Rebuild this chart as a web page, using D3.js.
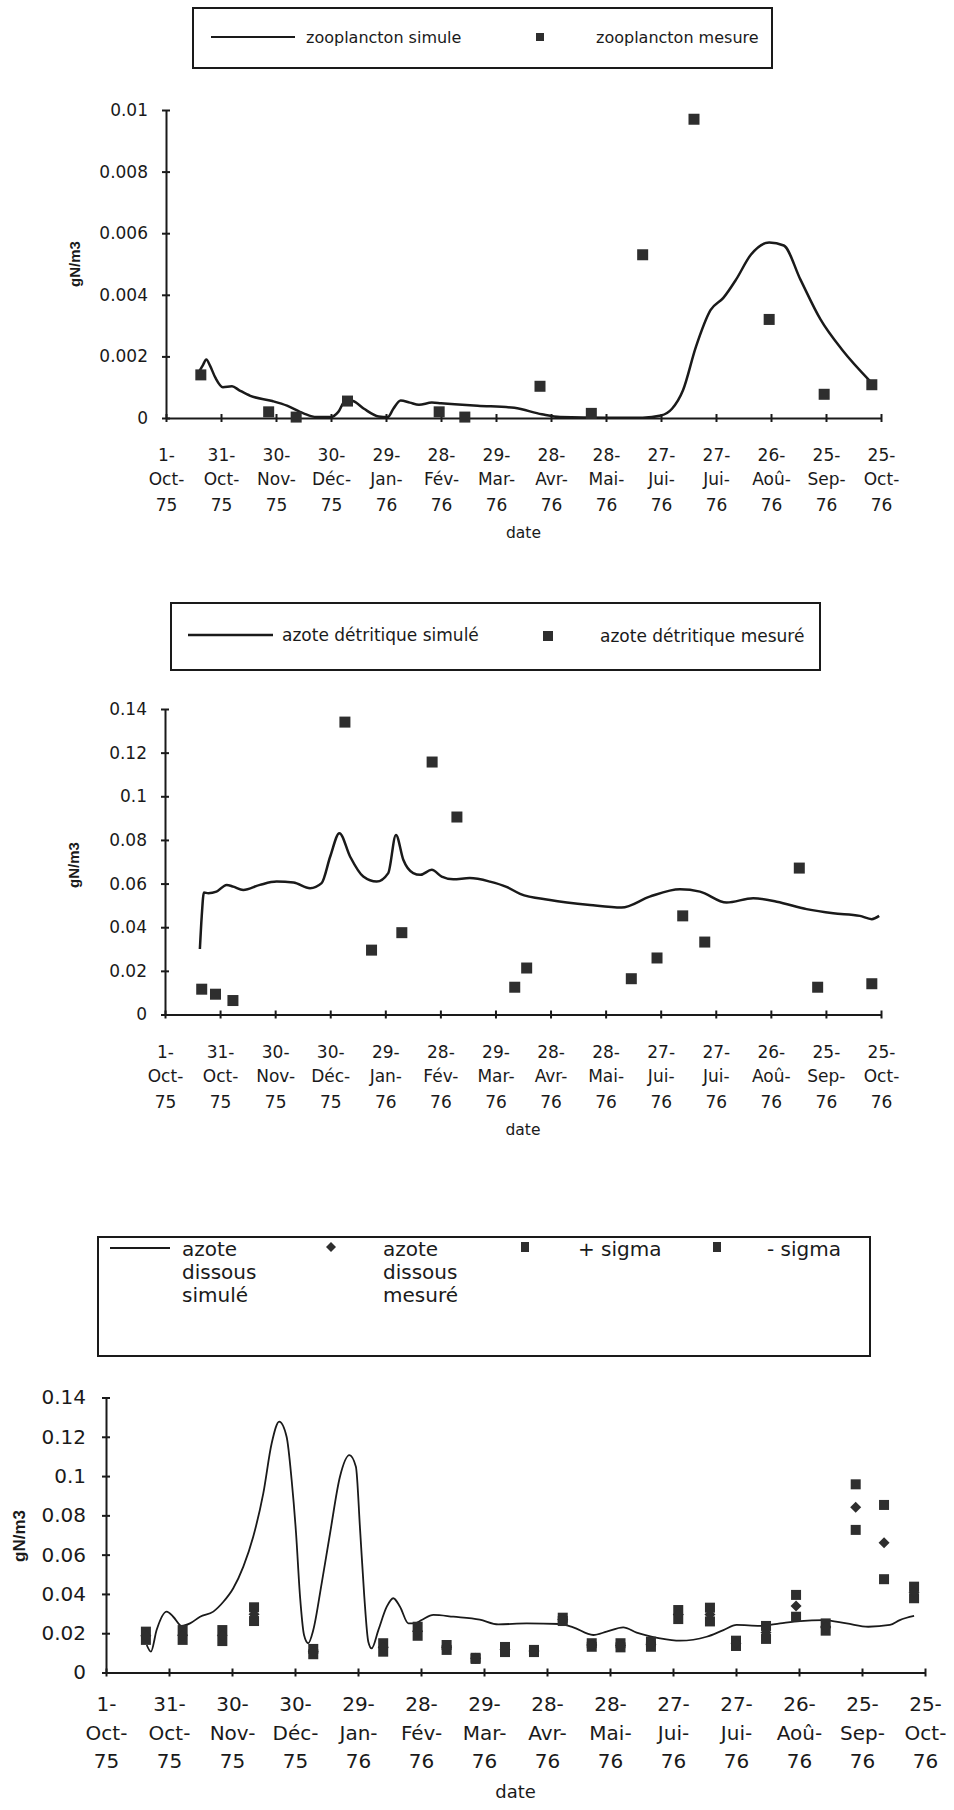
<!DOCTYPE html>
<html>
<head>
<meta charset="utf-8">
<script src="https://cdn.jsdelivr.net/npm/d3@7"></script>
<style>
  body { margin: 0; background: #fff; }
  svg { display: block; }
</style>
</head>
<body>
<svg id="fig" width="954" height="1810"></svg>
<script>
// Time axis: days counted from 1 Oct 1975, one tick every 30 days
const tickDays   = [0, 30, 60, 90, 120, 150, 180, 210, 240, 270, 300, 330, 360, 390];
const tickDay    = ["1-", "31-", "30-", "30-", "29-", "28-", "29-", "28-", "28-", "27-", "27-", "26-", "25-", "25-"];
const tickMonth  = ["Oct-", "Oct-", "Nov-", "Déc-", "Jan-", "Fév-", "Mar-", "Avr-", "Mai-", "Jui-", "Jui-", "Aoû-", "Sep-", "Oct-"];
const tickYear   = ["75", "75", "75", "75", "76", "76", "76", "76", "76", "76", "76", "76", "76", "76"];

// Zooplancton (gN/m3)
const zooTicks  = [0, 0.002, 0.004, 0.006, 0.008, 0.01];
const zooLabels = ["0", "0.002", "0.004", "0.006", "0.008", "0.01"];
const zooSimDays = [18, 20, 22, 24, 27, 31, 36, 40, 46, 58, 66, 75, 82, 90, 94, 98, 102, 108, 116, 121, 124, 128, 133, 138, 145, 150, 170, 190, 205, 215, 240, 260, 270, 276, 282, 289, 297, 304, 311, 319, 329, 337, 346, 357, 369, 384];
const zooSimVals = [0.0015, 0.0017, 0.0019, 0.0017, 0.0013, 0.001, 0.00103, 0.0009, 0.00072, 0.00055, 0.0004, 0.00015, 0.00003, 0.00003, 0.0002, 0.00058, 0.00055, 0.0003, 0.00005, 0.00003, 0.0003, 0.00057, 0.0005, 0.00043, 0.0005, 0.00048, 0.0004, 0.00033, 0.00012, 0.00003, 0.00001, 0.00001, 0.00008, 0.0003, 0.0009, 0.0023, 0.0035, 0.0039, 0.0045, 0.0053, 0.0057, 0.0056, 0.0045, 0.0032, 0.0022, 0.0012];
const zooMesDays = [19, 56, 71, 99, 149, 163, 204, 232, 260, 288, 329, 359, 385];
const zooMesVals = [0.0014, 0.0002, 0.00003, 0.00055, 0.0002, 0.00003, 0.00103, 0.00015, 0.0053, 0.0097, 0.0032, 0.00077, 0.00108];

// Azote détritique (gN/m3)
const nTicks  = [0, 0.02, 0.04, 0.06, 0.08, 0.1, 0.12, 0.14];
const nLabels = ["0", "0.02", "0.04", "0.06", "0.08", "0.1", "0.12", "0.14"];
const detSimDays = [19, 20, 21.2, 23.6, 28, 33.6, 37.2, 42.6, 51.7, 60.8, 70, 79, 85.3, 90, 95, 100.8, 108, 115.3, 121.6, 125.8, 129.8, 135.2, 139, 145.3, 150.7, 157, 166, 177, 186, 193.4, 209.7, 231.5, 248.7, 264, 280.5, 291.4, 305.9, 320.4, 333.2, 349.5, 364, 378.5, 385, 389];
const detSimVals = [0.030, 0.045, 0.0559, 0.0556, 0.0563, 0.0594, 0.0586, 0.0571, 0.0594, 0.0609, 0.0605, 0.0579, 0.0602, 0.0724, 0.0831, 0.0724, 0.0632, 0.0609, 0.0648, 0.0823, 0.0709, 0.0648, 0.064, 0.0663, 0.0632, 0.062, 0.0625, 0.0609, 0.0585, 0.0553, 0.0525, 0.0502, 0.049, 0.054, 0.0574, 0.0563, 0.0513, 0.0533, 0.0517, 0.0483, 0.0464, 0.0452, 0.0437, 0.0452];
const detMesDays = [20, 27.5, 37, 98, 112.5, 129, 145.5, 159, 190.5, 197, 254, 268, 282, 294, 345.5, 355.5, 385];
const detMesVals = [0.0116, 0.0093, 0.0064, 0.134, 0.0295, 0.0375, 0.1157, 0.0905, 0.0125, 0.0213, 0.0164, 0.0259, 0.0452, 0.0332, 0.0671, 0.0125, 0.0141];

// Azote dissous (gN/m3)
const disSimDays = [19.4, 21.4, 24.1, 28.9, 32, 36, 40, 44.8, 51.1, 55.9, 60.6, 65.4, 70.1, 74.9, 78.9, 82.5, 86, 88.4, 90.5, 92.4, 94.3, 96.3, 98.7, 102.7, 106.7, 111.4, 115.9, 119, 121, 123, 124.9, 126.5, 129.7, 133.7, 136.8, 140, 144, 147, 150.3, 155.9, 165.4, 178, 186.8, 200.3, 216.2, 222.5, 232, 238.4, 246.3, 252.7, 263.8, 273.3, 286, 294, 300.3, 311.4, 321, 330.5, 341.6, 352.7, 363, 373.3, 378, 384.8];
const disSimVals = [0.014, 0.0106, 0.0216, 0.031, 0.0284, 0.0237, 0.025, 0.0284, 0.031, 0.036, 0.0429, 0.0539, 0.0691, 0.0912, 0.1167, 0.1277, 0.12, 0.098, 0.0709, 0.0386, 0.0191, 0.0149, 0.0216, 0.0454, 0.0709, 0.0997, 0.1107, 0.1048, 0.0726, 0.0386, 0.0157, 0.0123, 0.0216, 0.0335, 0.0378, 0.0335, 0.025, 0.025, 0.0267, 0.0293, 0.0284, 0.0269, 0.0245, 0.025, 0.0247, 0.023, 0.0191, 0.0208, 0.023, 0.0203, 0.0174, 0.0162, 0.0182, 0.0216, 0.0242, 0.0237, 0.025, 0.0262, 0.0267, 0.025, 0.0233, 0.0242, 0.0267, 0.0288];
const disMesDays  = [19, 36.5, 55.4, 70.5, 98.7, 132, 148.4, 162.2, 176, 190, 203.8, 217.5, 231.3, 245, 259.5, 272.5, 287.6, 300, 314.3, 328.6, 342.7, 357, 370.5, 384.8];
const disMesVals  = [0.0187, 0.019, 0.0188, 0.0297, 0.0106, 0.0128, 0.021, 0.0128, 0.0072, 0.0117, 0.011, 0.027, 0.014, 0.0138, 0.0144, 0.0295, 0.0295, 0.0149, 0.0204, 0.0339, 0.0232, 0.0841, 0.0661, 0.0408];
const disPlusVals = [0.0208, 0.0216, 0.0216, 0.0332, 0.012, 0.0149, 0.0233, 0.014, 0.0075, 0.013, 0.0115, 0.0279, 0.0149, 0.0149, 0.0157, 0.0318, 0.033, 0.0162, 0.0237, 0.0395, 0.025, 0.0958, 0.0853, 0.0437];
const disMinusVals = [0.0166, 0.0166, 0.016, 0.0262, 0.0093, 0.0106, 0.0187, 0.0115, 0.0069, 0.0104, 0.0104, 0.0262, 0.0131, 0.0128, 0.0131, 0.0272, 0.026, 0.0135, 0.0171, 0.0284, 0.0213, 0.0726, 0.0475, 0.0378];

const svg = d3.select("#fig");
const INK = "#1a1a1a";
const MARK = "#2e2e2e";
const HELV = "'DejaVu Sans', sans-serif";
const GEOM = "'DejaVu Sans', sans-serif";

function drawPanel(o) {
  const x = d3.scaleLinear().domain([0, 390]).range([o.left, o.right]);
  const y = d3.scaleLinear().domain([0, o.yMax]).range([o.bottom, o.top]);
  const g = svg.append("g");

  // vertical axis with crossing ticks
  const ya = g.append("g")
    .attr("transform", `translate(${o.left},0)`)
    .call(d3.axisLeft(y).tickValues(o.yTicks)
      .tickFormat((d, i) => o.yLabels[i])
      .tickSizeInner(4).tickSizeOuter(0).tickPadding(o.yPad));
  ya.attr("font-family", o.font).attr("font-size", o.fs);
  ya.select(".domain").attr("stroke", INK).attr("stroke-width", 2);
  ya.selectAll(".tick line").attr("x1", -4).attr("x2", 4).attr("stroke", INK).attr("stroke-width", 2);
  ya.selectAll(".tick text").attr("fill", INK);

  // horizontal axis with crossing ticks and three-line date labels
  const xa = g.append("g")
    .attr("transform", `translate(0,${o.bottom})`)
    .call(d3.axisBottom(x).tickValues(tickDays).tickFormat("").tickSizeInner(4).tickSizeOuter(0));
  xa.select(".domain").attr("stroke", INK).attr("stroke-width", 2);
  xa.selectAll(".tick line").attr("y1", -4).attr("y2", 4).attr("stroke", INK).attr("stroke-width", 2);
  xa.selectAll(".tick text").remove();
  xa.selectAll(".tick").each(function (d, i) {
    const t = d3.select(this).append("text")
      .attr("text-anchor", "middle")
      .attr("font-family", o.font).attr("font-size", o.fs).attr("fill", INK);
    [tickDay[i], tickMonth[i], tickYear[i]].forEach((s, k) => {
      t.append("tspan").attr("x", 0).attr("y", o.lab[k] + o.fs * 0.36).text(s);
    });
  });

  // axis titles
  g.append("text")
    .attr("x", (o.left + o.right) / 2).attr("y", o.bottom + o.dateDy)
    .attr("text-anchor", "middle").attr("font-family", o.font)
    .attr("font-size", o.dateFs).attr("fill", INK).text("date");
  g.append("text")
    .attr("transform", `translate(${o.unitX},${o.unitY}) rotate(-90)`)
    .attr("text-anchor", "middle").attr("font-family", "'Liberation Sans', Arial, sans-serif")
    .attr("font-weight", "bold").attr("font-size", o.unitFs).attr("fill", INK).text("gN/m3");

  return { g, x, y };
}

function simLine(p, days, vals, width) {
  const line = d3.line().x(d => p.x(d[0])).y(d => p.y(d[1])).curve(d3.curveMonotoneX);
  p.g.append("path").datum(d3.zip(days, vals))
    .attr("d", line).attr("fill", "none").attr("stroke", INK)
    .attr("stroke-width", width).attr("stroke-linejoin", "round");
}

function squares(p, days, vals, w, h) {
  p.g.append("g").selectAll("rect").data(d3.zip(days, vals)).join("rect")
    .attr("x", d => p.x(d[0]) - w / 2).attr("y", d => p.y(d[1]) - h / 2)
    .attr("width", w).attr("height", h).attr("fill", MARK);
}

function diamonds(p, days, vals, r) {
  p.g.append("g").selectAll("path").data(d3.zip(days, vals)).join("path")
    .attr("d", d => {
      const cx = p.x(d[0]), cy = p.y(d[1]);
      return `M${cx},${cy - r}L${cx + r},${cy}L${cx},${cy + r}L${cx - r},${cy}Z`;
    })
    .attr("fill", MARK);
}

function legendBox(x0, y0, x1, y1) {
  svg.append("rect").attr("x", x0).attr("y", y0).attr("width", x1 - x0).attr("height", y1 - y0)
    .attr("fill", "none").attr("stroke", INK).attr("stroke-width", 2);
}
function legendText(x, yc, lines, font, fs, lh) {
  const t = svg.append("text").attr("font-family", font).attr("font-size", fs).attr("fill", INK);
  lines.forEach((s, k) => t.append("tspan").attr("x", x).attr("y", yc + k * lh + fs * 0.36).text(s));
}

// ---------- Zooplancton ----------
legendBox(193, 8, 772, 68);
svg.append("line").attr("x1", 211).attr("x2", 295).attr("y1", 37).attr("y2", 37).attr("stroke", INK).attr("stroke-width", 2);
legendText(306, 37, ["zooplancton simule"], GEOM, 16, 0);
svg.append("rect").attr("x", 536).attr("y", 33).attr("width", 8).attr("height", 8).attr("fill", MARK);
legendText(596, 37, ["zooplancton mesure"], GEOM, 16, 0);

const p1 = drawPanel({
  left: 166, right: 881, top: 110, bottom: 418, yMax: 0.01,
  yTicks: zooTicks, yLabels: zooLabels, yPad: 14,
  font: HELV, fs: 17, lab: [37, 61, 87], dateDy: 120, dateFs: 15.5,
  unitX: 80, unitY: 264, unitFs: 15
});
simLine(p1, zooSimDays, zooSimVals, 2.5);
squares(p1, zooMesDays, zooMesVals, 11, 11);

// ---------- Azote détritique ----------
legendBox(171, 603, 820, 670);
svg.append("line").attr("x1", 188).attr("x2", 273).attr("y1", 635).attr("y2", 635).attr("stroke", INK).attr("stroke-width", 2.5);
legendText(282, 635, ["azote détritique simulé"], HELV, 17, 0);
svg.append("rect").attr("x", 543).attr("y", 631).attr("width", 10).attr("height", 10).attr("fill", MARK);
legendText(600, 636, ["azote détritique mesuré"], HELV, 17, 0);

const p2 = drawPanel({
  left: 165, right: 881, top: 709, bottom: 1014.5, yMax: 0.14,
  yTicks: nTicks, yLabels: nLabels, yPad: 14,
  font: HELV, fs: 17, lab: [37, 61, 87], dateDy: 120.5, dateFs: 15.5,
  unitX: 79, unitY: 865, unitFs: 15
});
simLine(p2, detSimDays, detSimVals, 2.5);
squares(p2, detMesDays, detMesVals, 11, 11);

// ---------- Azote dissous ----------
legendBox(98, 1237, 870, 1356);
svg.append("line").attr("x1", 110).attr("x2", 170).attr("y1", 1248).attr("y2", 1248).attr("stroke", INK).attr("stroke-width", 1.8);
legendText(182, 1249, ["azote", "dissous", "simulé"], GEOM, 20, 23);
svg.append("path").attr("d", "M331,1242L336,1247L331,1252L326,1247Z").attr("fill", MARK);
legendText(383, 1249, ["azote", "dissous", "mesuré"], GEOM, 20, 23);
svg.append("rect").attr("x", 521).attr("y", 1242).attr("width", 8).attr("height", 10).attr("fill", MARK);
legendText(578, 1249, ["+ sigma"], GEOM, 20, 0);
svg.append("rect").attr("x", 713).attr("y", 1242).attr("width", 8).attr("height", 10).attr("fill", MARK);
legendText(767, 1249, ["- sigma"], GEOM, 20, 0);

const p3 = drawPanel({
  left: 106, right: 925, top: 1397.5, bottom: 1672.5, yMax: 0.14,
  yTicks: nTicks, yLabels: nLabels, yPad: 16,
  font: GEOM, fs: 20, lab: [31, 60, 88], dateDy: 125, dateFs: 18,
  unitX: 25, unitY: 1536, unitFs: 17
});
simLine(p3, disSimDays, disSimVals, 1.8);
squares(p3, disMesDays, disPlusVals, 10, 10);
squares(p3, disMesDays, disMinusVals, 10, 10);
diamonds(p3, disMesDays, disMesVals, 5.5);
</script>
</body>
</html>
